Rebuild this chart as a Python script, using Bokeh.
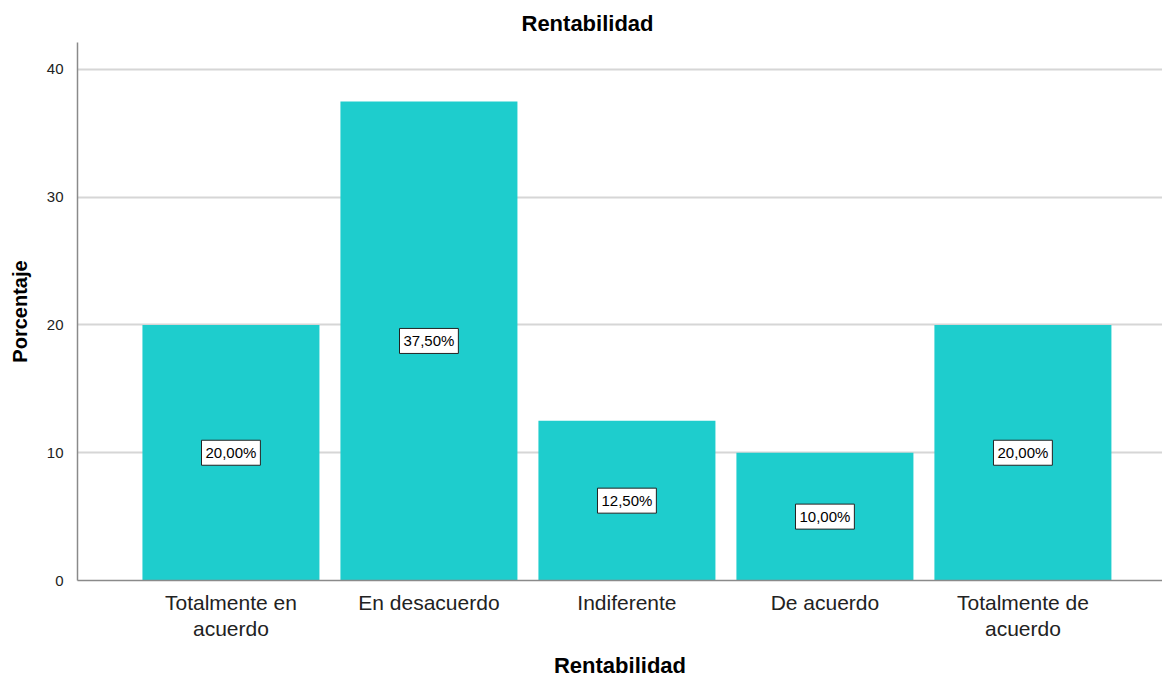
from bokeh.plotting import figure
from bokeh.models import ColumnDataSource, Label, FixedTicker, Range1d, Title
from bokeh.embed import file_html
from bokeh.resources import INLINE

categories = ["Totalmente en\nacuerdo", "En desacuerdo", "Indiferente", "De acuerdo", "Totalmente de\nacuerdo"]
percentages = [20.0, 37.5, 12.5, 10.0, 20.0]
bar_labels = ["20,00%", "37,50%", "12,50%", "10,00%", "20,00%"]
y_ticks = [0, 10, 20, 30, 40]

FONT = "Liberation Sans"
positions = list(range(len(categories)))

src = ColumnDataSource(dict(x=positions, top=percentages))

p = figure(width=1162, height=680, output_backend="svg", toolbar_location=None,
           x_range=Range1d(-0.775, 4.705), y_range=Range1d(0, 42.11),
           min_border_left=77, min_border_right=0, min_border_top=42, min_border_bottom=100)
p.outline_line_color = None
p.background_fill_color = "white"
p.border_fill_color = "white"

p.title = Title(text="Rentabilidad", align="left", offset=444, text_font=FONT,
                text_font_size="22px", text_font_style="bold", text_color="black",
                standoff=14)

p.vbar(x="x", top="top", width=0.894, source=src, fill_color="#1ecdcd", line_color=None)

for xp, v, lab in zip(positions, percentages, bar_labels):
    p.add_layout(Label(x=xp, y=v / 2, text=lab, text_align="center", text_baseline="middle",
                       text_font=FONT, text_font_size="15px", text_color="black",
                       background_fill_color="white", border_line_color="#222222",
                       border_line_width=1, padding=4))

# axes
p.xaxis.ticker = FixedTicker(ticks=positions)
p.xaxis.major_label_overrides = {i: c for i, c in enumerate(categories)}
p.xaxis.major_label_text_font = FONT
p.xaxis.major_label_text_font_size = "21px"
p.xaxis.major_label_text_color = "#222222"
p.xaxis.major_label_text_line_height = 1.15
p.xaxis.major_label_standoff = 4
p.xaxis.major_tick_line_color = None
p.xaxis.minor_tick_line_color = None
p.xaxis.axis_line_color = "#8a8a8a"
p.xaxis.axis_line_width = 1.5
p.xaxis.axis_label = "Rentabilidad"
p.xaxis.axis_label_text_font = FONT
p.xaxis.axis_label_text_font_size = "22px"
p.xaxis.axis_label_text_font_style = "bold"
p.xaxis.axis_label_text_color = "black"
p.xaxis.axis_label_standoff = 10

p.yaxis.ticker = FixedTicker(ticks=y_ticks)
p.yaxis.major_label_text_font = FONT
p.yaxis.major_label_text_font_size = "15px"
p.yaxis.major_label_text_color = "#222222"
p.yaxis.major_label_standoff = 8
p.yaxis.major_tick_line_color = None
p.yaxis.minor_tick_line_color = None
p.yaxis.axis_line_color = "#8a8a8a"
p.yaxis.axis_line_width = 1.5
p.yaxis.axis_label = "Porcentaje"
p.yaxis.axis_label_text_font = FONT
p.yaxis.axis_label_text_font_size = "20px"
p.yaxis.axis_label_text_font_style = "bold"
p.yaxis.axis_label_text_color = "black"
p.yaxis.axis_label_standoff = 13

p.xgrid.grid_line_color = None
p.ygrid.grid_line_color = "#d6d6d6"
p.ygrid.grid_line_width = 2
p.ygrid.ticker = FixedTicker(ticks=y_ticks)

open("out.html", "w").write(file_html(p, INLINE))
